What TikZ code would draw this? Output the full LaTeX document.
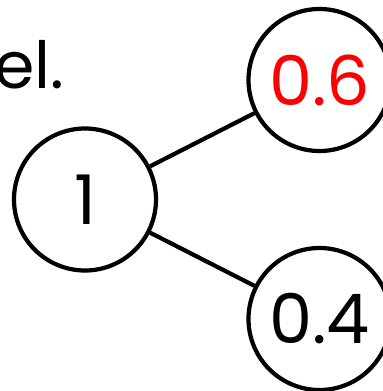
\documentclass[tikz,border=0pt]{standalone}
\usepackage{fontspec}
\setmainfont{Poppins}
\usetikzlibrary{trees}

\begin{document}
\begin{tikzpicture}[level distance=4.69cm, grow=right,
  level 1/.style={sibling distance=4.78cm},
  ball/.style={circle,draw,line width=2.4pt,minimum size=2.84cm,inner sep=0pt,
    font=\fontsize{39}{39}\selectfont},
  edge from parent/.style={draw,line width=2.4pt}]
  \useasboundingbox (0,0) rectangle (7.66,-7.82);
  \clip (0,0) rectangle (7.66,-7.82);
  \node[anchor=base east,inner sep=0pt,font=\fontsize{37}{37}\selectfont] (del) at (1.30,-1.76) {del.};
  \node[ball] (one) at (1.70,-3.99) {1}
    child {node[ball] (four) {0.4}}
    child {node[ball] (six) {\textcolor{red}{0.6}}};
\end{tikzpicture}
\end{document}
